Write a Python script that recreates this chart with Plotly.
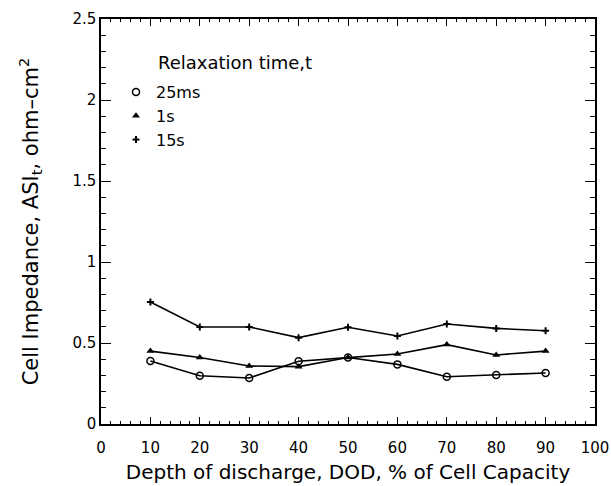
import plotly.graph_objects as go

dod = [10, 20, 30, 40, 50, 60, 70, 80, 90]
asi_25ms = [0.389, 0.298, 0.284, 0.387, 0.410, 0.368, 0.292, 0.302, 0.315]
asi_1s = [0.450, 0.410, 0.358, 0.354, 0.410, 0.432, 0.490, 0.426, 0.450]
asi_15s = [0.753, 0.599, 0.599, 0.533, 0.597, 0.543, 0.617, 0.590, 0.576]

series = [
    ("25ms", asi_25ms, dict(symbol="circle-open", size=7, color="black", line=dict(width=1.5, color="black"))),
    ("1s", asi_1s, dict(symbol="triangle-up", size=7, color="black")),
    ("15s", asi_15s, dict(symbol="cross-thin-open", size=5, color="black", line=dict(width=2, color="black"))),
]

fig = go.Figure()
for name, vals, mk in series:
    fig.add_trace(go.Scatter(x=dod, y=vals, mode="lines+markers", name=name,
                             line=dict(color="black", width=1.6), marker=mk, showlegend=False))
for name, vals, mk in series:
    fig.add_trace(go.Scatter(x=[None], y=[None], mode="markers", name=name, marker=mk, showlegend=True))

font_family = "DejaVu Sans, Arial, sans-serif"
axis_common = dict(
    showline=True, linecolor="black", linewidth=1.5, mirror="ticks",
    ticks="inside", tickcolor="black", tickwidth=1.3,
    showgrid=False, zeroline=False, automargin=False,
    tickfont=dict(family=font_family, size=15, color="black"),
)

# plot area at screen x 101..595, y 19..424 (page body margin removed below)
L, R, T, B = 101, 16, 19, 62
PW = 611 - L - R
PH = 486 - T - B

fig.update_xaxes(range=[0, 100], tick0=0, dtick=10, ticklen=7, ticklabelstandoff=9,
                 minor=dict(ticks="inside", dtick=2, ticklen=3, tickcolor="black", tickwidth=1),
                 title=dict(text="Depth of discharge, DOD, % of Cell Capacity",
                            font=dict(family=font_family, size=20, color="black"), standoff=9),
                 **axis_common)
fig.update_yaxes(range=[0, 2.5], tick0=0, dtick=0.5, ticklen=10,
                 minor=dict(ticks="inside", dtick=0.1, ticklen=5, tickcolor="black", tickwidth=1),
                 title=dict(text="Cell Impedance, ASI<sub>t</sub>, ohm\u2013cm<sup>2</sup>",
                            font=dict(family=font_family, size=21, color="black"), standoff=28),
                 **axis_common)

fig.add_annotation(text="Relaxation time,t", xref="paper", yref="paper",
                   x=(156 - 101) / PW, y=(424 - 63) / PH, xanchor="left", yanchor="middle",
                   showarrow=False, font=dict(family=font_family, size=18, color="black"))

fig.update_layout(
    width=611, height=486,
    margin=dict(l=L, r=R, t=T, b=B),
    paper_bgcolor="white", plot_bgcolor="white",
    legend=dict(x=(116 - 101) / PW, y=(424 - 75) / PH, xanchor="left", yanchor="top",
                font=dict(family=font_family, size=16, color="black"),
                bgcolor="rgba(0,0,0,0)", itemwidth=30, tracegroupgap=0),
)

fig.write_html("out.html", config={"displayModeBar": False},
               post_script="document.body.style.margin='0';document.body.style.overflow='hidden';")
